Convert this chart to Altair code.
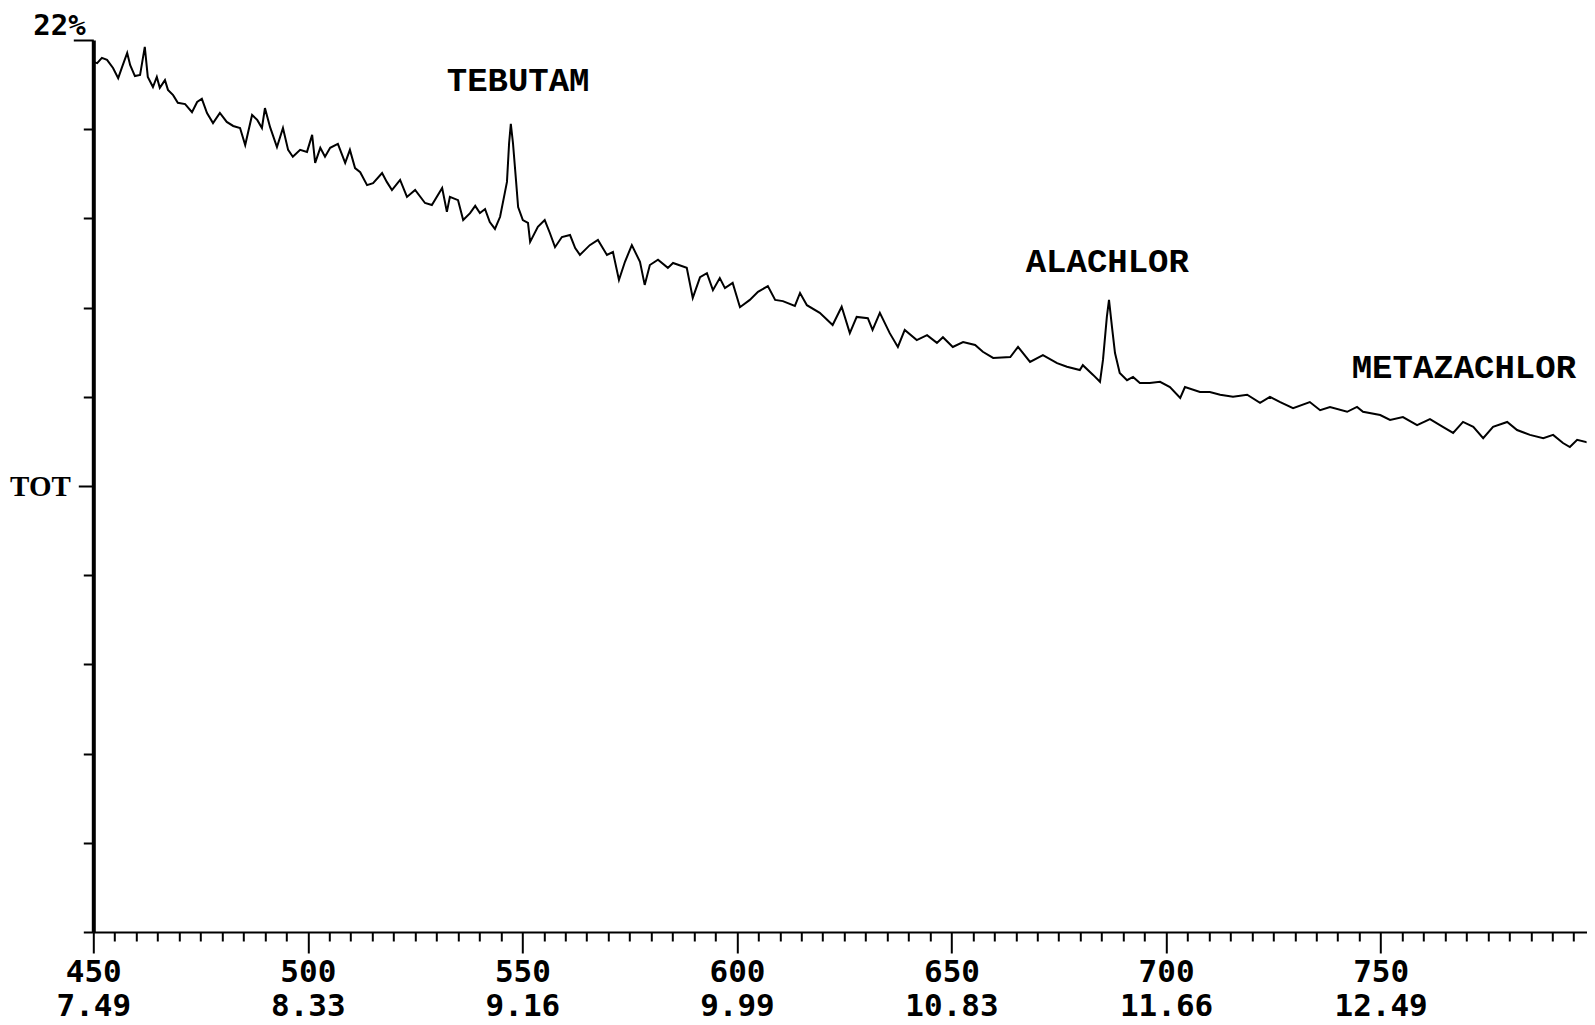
import altair as alt
import pandas as pd

# ---- trace (scan number, % of full scale) ----
scans = [450.0, 450.9, 452.0, 453.2, 454.6, 455.8, 456.7, 457.9, 458.6, 459.7,
         460.9, 462.0, 462.7, 463.9, 464.8, 465.5, 466.7, 467.4, 468.6, 469.7,
         471.4, 473.0, 474.2, 475.3, 476.5, 477.9, 479.5, 481.1, 482.6, 484.2,
         485.4, 487.0, 488.2, 489.3, 490.0, 491.2, 492.8, 494.2, 495.4, 496.5,
         498.2, 499.8, 501.0, 501.7, 502.9, 504.0, 505.2, 507.0, 508.7, 509.8,
         511.0, 512.2, 513.8, 515.2, 517.3, 518.4, 519.6, 521.5, 523.1, 525.0,
         527.3, 528.9, 531.3, 532.4, 533.1, 535.0, 536.2, 537.8, 539.0, 540.1,
         541.3, 542.4, 543.6, 544.8, 545.9, 546.4, 546.9, 547.3, 547.8, 548.5,
         549.0, 550.1, 551.3, 551.8, 553.6, 555.2, 556.4, 557.6, 559.2, 561.1,
         562.3, 563.4, 565.7, 567.6, 569.7, 571.1, 572.5, 573.9, 575.5, 577.4,
         578.5, 579.7, 581.6, 583.9, 585.1, 588.3, 589.7, 591.4, 593.0, 594.4,
         596.0, 597.2, 599.0, 600.7, 603.0, 604.9, 607.2, 608.9, 610.7, 613.5,
         614.7, 616.3, 619.3, 622.3, 624.4, 626.3, 627.9, 630.5, 631.6, 633.3,
         635.6, 637.5, 639.1, 641.9, 644.3, 646.6, 648.0, 650.3, 652.7, 655.5,
         657.3, 659.7, 663.7, 665.5, 668.3, 671.3, 674.6, 676.9, 679.9, 680.6,
         683.0, 684.6, 685.3, 686.2, 686.7, 687.4, 688.1, 689.2, 690.9, 692.3,
         693.9, 696.2, 698.6, 700.9, 703.3, 704.4, 707.9, 710.2, 712.6, 715.6,
         718.9, 721.9, 724.2, 726.6, 729.6, 733.5, 735.9, 738.2, 742.2, 744.5,
         745.9, 749.9, 752.2, 755.2, 758.5, 761.5, 764.5, 766.9, 769.2, 771.6,
         773.9, 776.2, 779.5, 781.8, 784.8, 787.9, 790.2, 792.5, 794.1, 795.8,
         798.8, 800.0]
intensity = [21.46, 21.43, 21.56, 21.51, 21.31, 21.06, 21.33, 21.68, 21.38, 21.11,
             21.14, 21.83, 21.09, 20.84, 21.09, 20.82, 21.01, 20.77, 20.64, 20.45,
             20.42, 20.22, 20.47, 20.55, 20.20, 19.95, 20.20, 19.98, 19.88, 19.83,
             19.41, 20.15, 20.03, 19.83, 20.32, 19.85, 19.36, 19.83, 19.29, 19.12,
             19.29, 19.24, 19.66, 18.97, 19.34, 19.12, 19.34, 19.44, 18.97, 19.29,
             18.84, 18.74, 18.42, 18.47, 18.72, 18.50, 18.30, 18.55, 18.13, 18.30,
             17.98, 17.93, 18.35, 17.76, 18.13, 18.05, 17.56, 17.73, 17.91, 17.73,
             17.83, 17.51, 17.34, 17.64, 18.23, 18.50, 19.46, 19.93, 19.46, 18.55,
             17.88, 17.56, 17.49, 17.02, 17.39, 17.56, 17.24, 16.89, 17.14, 17.19,
             16.87, 16.70, 16.94, 17.07, 16.70, 16.77, 16.08, 16.53, 16.94, 16.53,
             15.96, 16.45, 16.58, 16.38, 16.50, 16.38, 15.64, 16.15, 16.25, 15.83,
             16.13, 15.88, 16.01, 15.41, 15.59, 15.79, 15.93, 15.59, 15.56, 15.44,
             15.76, 15.46, 15.27, 14.97, 15.42, 14.77, 15.17, 15.14, 14.85, 15.27,
             14.77, 14.43, 14.85, 14.60, 14.72, 14.53, 14.67, 14.43, 14.55, 14.48,
             14.31, 14.16, 14.18, 14.43, 14.06, 14.23, 14.03, 13.94, 13.86, 13.98,
             13.74, 13.57, 14.11, 15.17, 15.59, 14.92, 14.28, 13.79, 13.61, 13.69,
             13.54, 13.54, 13.57, 13.44, 13.17, 13.44, 13.32, 13.32, 13.25, 13.20,
             13.25, 13.05, 13.20, 13.07, 12.92, 13.07, 12.87, 12.95, 12.83, 12.95,
             12.83, 12.75, 12.63, 12.70, 12.50, 12.65, 12.46, 12.31, 12.58, 12.46,
             12.18, 12.46, 12.58, 12.38, 12.26, 12.18, 12.26, 12.06, 11.96, 12.14,
             12.06, 11.96]

# ---- peak annotations ----
peak_names = ["TEBUTAM", "ALACHLOR", "METAZACHLOR"]
peak_scans = [549.0, 686.3, 769.4]
peak_label_levels = [20.73, 16.29, 13.66]

# ---- axes ----
x_tick_values = list(range(450, 796, 5))
major_scans = [450, 500, 550, 600, 650, 700, 750]
major_times = ["7.49", "8.33", "9.16", "9.99", "10.83", "11.66", "12.49"]
y_tick_values = [0, 2.2, 4.4, 6.6, 8.8, 11, 13.2, 15.4, 17.6, 19.8, 22]
y_trace_label = "TOT"
full_scale_text = ["22%"]
full_scale_scan = [450]
full_scale_level = [22]

trace_df = pd.DataFrame({"scan": scans, "pct": intensity})
label_df = pd.DataFrame({"scan": peak_scans, "pct": peak_label_levels, "name": peak_names})
fs_df = pd.DataFrame({"scan": full_scale_scan, "pct": full_scale_level, "name": full_scale_text})

x_label_expr = ""
for s, t in zip(major_scans, major_times):
    x_label_expr += f"datum.value == {s} ? ['{s}', '{t}'] : "
x_label_expr += "''"

x_axis = alt.Axis(
    title=None,
    values=x_tick_values,
    labelExpr=x_label_expr,
    tickSize={"condition": {"test": "datum.value % 50 == 0", "value": 21}, "value": 9},
    tickWidth=2,
    tickColor="black",
    domainColor="black",
    domainWidth=2,
    labelFont="DejaVu Sans Mono",
    labelFontWeight="bold",
    labelFontSize=31,
    labelColor="black",
    labelLineHeight=34,
    labelBaseline="top",
    labelPadding=5,
    labelFlush=False,
    labelOverlap=False,
    grid=False,
)

y_axis = alt.Axis(
    title=None,
    values=y_tick_values,
    labelExpr=f"datum.value == 11 ? '{y_trace_label}' : ''",
    tickSize={"condition": [{"test": "datum.value == 22", "value": 20},
                            {"test": "datum.value == 11", "value": 15}], "value": 10},
    tickWidth=2,
    tickColor="black",
    domainColor="black",
    domainWidth=4,
    labelFont="Liberation Serif",
    labelFontWeight="bold",
    labelFontSize=29,
    labelColor="black",
    labelPadding=8,
    labelBaseline="middle",
    labelOverlap=False,
    labelFlush=False,
    grid=False,
)

x_enc = alt.X("scan:Q", scale=alt.Scale(domain=[450, 798], nice=False, zero=False), axis=x_axis)
y_enc = alt.Y("pct:Q", scale=alt.Scale(domain=[0, 22], nice=False, zero=False), axis=y_axis)

trace = alt.Chart(trace_df).mark_line(color="black", strokeWidth=2, clip=True).encode(
    x=x_enc, y=y_enc
)

labels = alt.Chart(label_df).mark_text(
    font="Liberation Mono", fontWeight="bold", fontSize=34,
    baseline="alphabetic", align="center", color="black"
).encode(x=x_enc, y=y_enc, text="name:N")

full_scale = alt.Chart(fs_df).mark_text(
    font="DejaVu Sans Mono", fontWeight="bold", fontSize=29,
    baseline="alphabetic", align="left", dx=-60, dy=-5, color="black"
).encode(x=x_enc, y=y_enc, text="name:N")

chart = alt.layer(trace, labels, full_scale).properties(
    width=1493.3,
    height=892,
    autosize=alt.AutoSizeParams(type="none"),
    padding={"left": 85.3, "top": 32, "right": 0, "bottom": 90},
    background="white",
).configure_view(stroke=None)

chart.save("out.html", embed_options={"renderer": "svg", "actions": False})
